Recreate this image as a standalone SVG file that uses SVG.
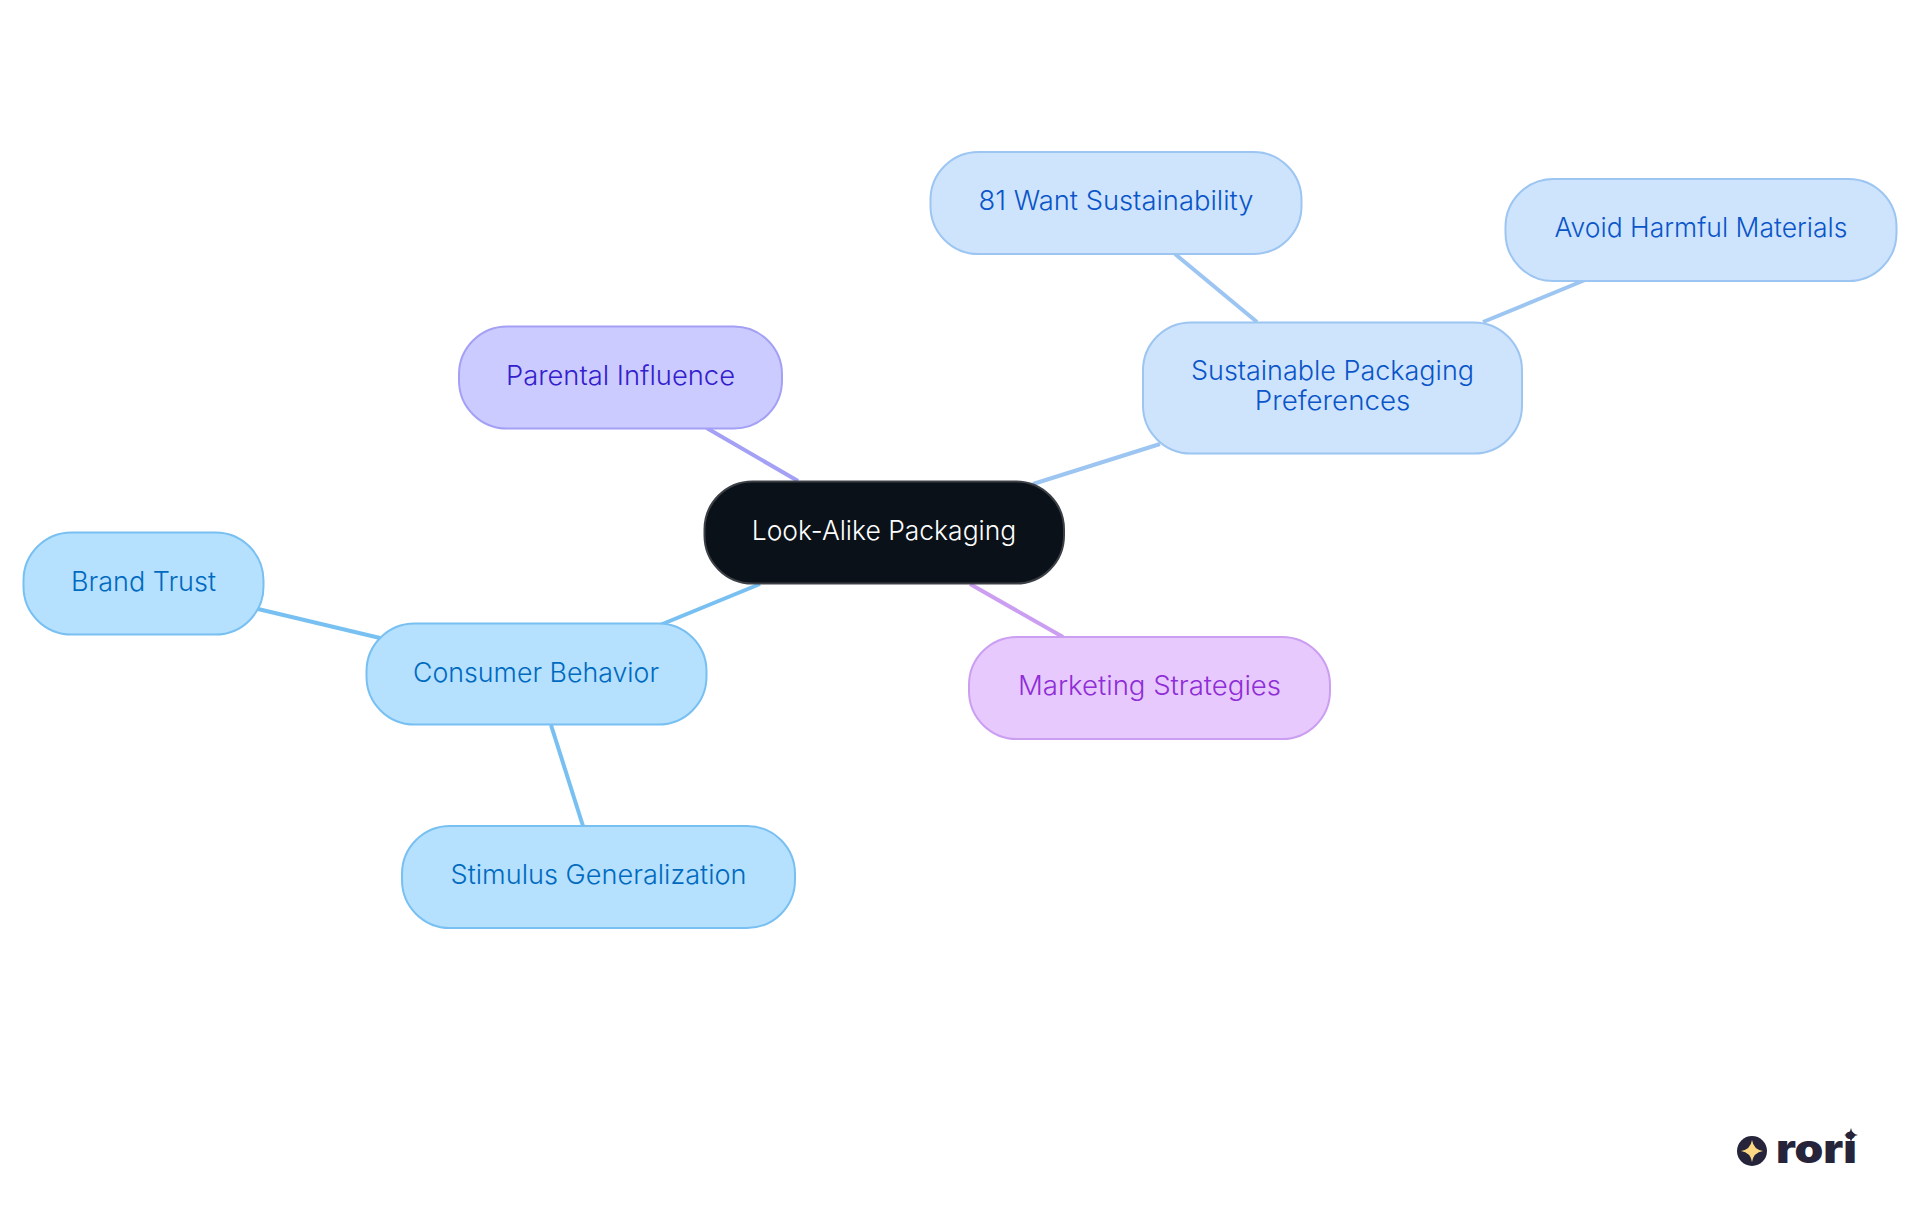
<svg xmlns="http://www.w3.org/2000/svg" width="1920" height="1215" viewBox="0 0 1920 1215">
<style>
text{font-family:Inter,"Noto Sans","Liberation Sans",sans-serif;font-size:27px;text-anchor:middle;font-weight:300}
rect{stroke-width:2}
.l{fill:none;stroke-width:4}
.c{fill:#0b1119;stroke:#3c4046}.c~text{fill:#fff}
.b{fill:#cee4fd;stroke:#9cc5f2}.b~text{fill:#0a55c8}
.s{fill:#b5e0fe;stroke:#78c0f2}.s~text{fill:#006abf}
.p{fill:#cccbff;stroke:#a3a0f5}.p~text{fill:#3320cc}
.m{fill:#e8c9fe;stroke:#cb9ef2}.m~text{fill:#8f2dd6}
</style>
<rect width="1920" height="1215" fill="#fff" style="stroke:none"/>
<g id="connectors">
<path class="l" stroke="#a3a0f5" d="M706.700 428L798 481"/>
<path class="l" stroke="#cb9ef2" d="M970 584L1063 637"/>
<path class="l" stroke="#9cc5f2" d="M1033 484L1160 444"/>
<path class="l" stroke="#78c0f2" d="M760 584L660 625"/>
<path class="l" stroke="#9cc5f2" d="M1175 254L1257 322"/>
<path class="l" stroke="#9cc5f2" d="M1483 322L1585 280"/>
<path class="l" stroke="#78c0f2" d="M258 609L380 638"/>
<path class="l" stroke="#78c0f2" d="M551 725L583 826"/>
</g>
<g id="center"><rect class="c" x="704.500" y="481.500" width="359.500" height="102" rx="48"/><text x="884" y="540" textLength="264.500" lengthAdjust="spacingAndGlyphs">Look-Alike Packaging</text></g>
<g id="sustainable"><rect class="b" x="1143" y="322.500" width="379" height="131" rx="48"/><text x="1332.500" y="380" textLength="283" lengthAdjust="spacingAndGlyphs">Sustainable Packaging</text><text x="1332.500" y="410" textLength="155.500" lengthAdjust="spacingAndGlyphs">Preferences</text></g>
<g id="want"><rect class="b" x="930.500" y="152" width="371" height="102" rx="48"/><text x="1116" y="210" textLength="275" lengthAdjust="spacingAndGlyphs">81 Want Sustainability</text></g>
<g id="avoid"><rect class="b" x="1505.500" y="179" width="391" height="102" rx="48"/><text x="1701" y="237" textLength="293" lengthAdjust="spacingAndGlyphs">Avoid Harmful Materials</text></g>
<g id="parental"><rect class="p" x="459" y="326.500" width="323" height="102" rx="48"/><text x="620.500" y="385" textLength="229" lengthAdjust="spacingAndGlyphs">Parental Influence</text></g>
<g id="consumer"><rect class="s" x="366.500" y="623.500" width="340" height="101" rx="48"/><text x="536" y="682" textLength="246" lengthAdjust="spacingAndGlyphs">Consumer Behavior</text></g>
<g id="brand"><rect class="s" x="23.500" y="532.500" width="240" height="102" rx="48"/><text x="143.500" y="591" textLength="145" lengthAdjust="spacingAndGlyphs">Brand Trust</text></g>
<g id="stimulus"><rect class="s" x="402" y="826" width="393" height="102" rx="48"/><text x="598.500" y="884" textLength="296" lengthAdjust="spacingAndGlyphs">Stimulus Generalization</text></g>
<g id="marketing"><rect class="m" x="969" y="637" width="361" height="102" rx="48"/><text x="1149.500" y="695" textLength="263" lengthAdjust="spacingAndGlyphs">Marketing Strategies</text></g>
<g id="logo">
<circle cx="1752" cy="1151" r="15" fill="#26243a"/>
<path d="M1752 1140Q1753.500 1149.500 1763 1151Q1753.500 1152.500 1752 1162Q1750.500 1152.500 1741 1151Q1750.500 1149.500 1752 1140Z" fill="#fcd982"/>
<text x="1776" y="1163" textLength="81" lengthAdjust="spacingAndGlyphs" style="text-anchor:start;font-size:40px;font-weight:900" fill="#26243a">rori</text>
<path d="M1851 1128Q1852 1134 1858 1135Q1852 1136 1851 1142Q1850 1136 1844 1135Q1850 1134 1851 1128Z" fill="#26243a"/>
</g>
</svg>
